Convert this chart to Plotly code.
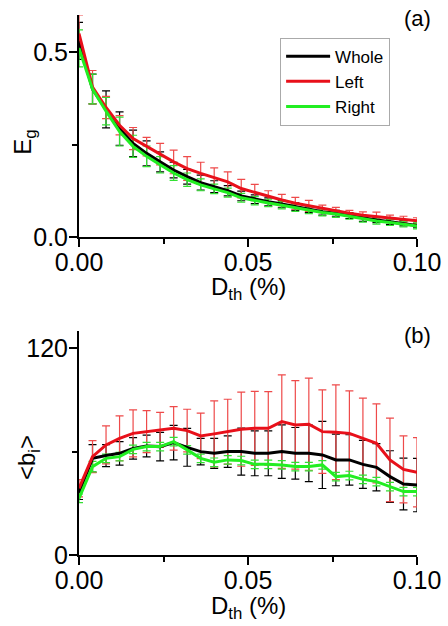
import plotly.graph_objects as go
from plotly.subplots import make_subplots

D = [0.000, 0.004, 0.008, 0.012, 0.016, 0.020, 0.024, 0.028, 0.032, 0.036, 0.040, 0.044, 0.048,
     0.052, 0.056, 0.060, 0.064, 0.068, 0.072, 0.076, 0.080, 0.084, 0.088, 0.092, 0.096, 0.100]

# Panel (a): global efficiency E_g
whole_a = [0.53, 0.40, 0.345, 0.293, 0.253, 0.226, 0.203, 0.181, 0.163, 0.147, 0.136, 0.125, 0.111,
           0.102, 0.095, 0.089, 0.082, 0.075, 0.068, 0.064, 0.058, 0.050, 0.046, 0.041, 0.037, 0.031]
left_a = [0.55, 0.405, 0.35, 0.302, 0.266, 0.244, 0.224, 0.203, 0.185, 0.172, 0.161, 0.149, 0.131,
          0.120, 0.109, 0.100, 0.091, 0.084, 0.076, 0.071, 0.064, 0.059, 0.055, 0.050, 0.048, 0.044]
right_a = [0.51, 0.40, 0.34, 0.285, 0.245, 0.218, 0.195, 0.173, 0.155, 0.141, 0.130, 0.120, 0.106,
           0.098, 0.092, 0.086, 0.079, 0.072, 0.066, 0.062, 0.056, 0.048, 0.043, 0.039, 0.035, 0.030]
whole_err_a = [0.05, 0.04, 0.05, 0.045, 0.036, 0.034, 0.027, 0.021, 0.02, 0.02, 0.016, 0.014, 0.013,
               0.012, 0.011, 0.01, 0.01, 0.009, 0.009, 0.008, 0.008, 0.008, 0.007, 0.007, 0.007, 0.006]
left_err_a = [0.05, 0.045, 0.03, 0.026, 0.03, 0.025, 0.029, 0.032, 0.032, 0.03, 0.026, 0.027, 0.025,
              0.022, 0.016, 0.015, 0.016, 0.015, 0.01, 0.009, 0.008, 0.009, 0.012, 0.009, 0.008, 0.008]
right_err_a = [0.05, 0.04, 0.037, 0.039, 0.03, 0.028, 0.022, 0.02, 0.018, 0.016, 0.013, 0.012, 0.012,
               0.011, 0.01, 0.01, 0.01, 0.009, 0.009, 0.009, 0.008, 0.008, 0.008, 0.008, 0.008, 0.008]

# Panel (b): mean betweenness <b_i>
whole_b = [36.2, 56.1, 57.7, 59.0, 61.9, 63.3, 62.9, 65.2, 62.5, 60.0, 59.0, 60.0, 60.0,
           59.0, 59.0, 60.0, 59.0, 59.0, 58.1, 55.2, 55.2, 52.6, 50.9, 45.5, 41.2, 40.6]
left_b = [38.7, 57.1, 63.9, 67.7, 70.6, 71.6, 72.6, 73.5, 72.2, 69.1, 70.3, 71.6, 73.0,
          73.5, 73.5, 77.4, 75.5, 75.9, 71.6, 71.2, 70.6, 67.7, 64.8, 55.2, 49.7, 48.0]
right_b = [32.9, 51.3, 56.1, 57.1, 61.3, 62.9, 62.9, 65.8, 61.0, 56.1, 53.8, 55.2, 54.8,
           52.6, 52.6, 52.3, 51.3, 51.3, 52.3, 45.5, 46.1, 43.9, 42.6, 39.7, 36.8, 36.8]
whole_err_b = [4, 8, 6.4, 6.8, 6.2, 6.3, 8.3, 10, 11, 7.7, 8.7, 9.1, 13.6,
               13, 13, 15.5, 15, 16.4, 19.5, 15, 14.6, 13.9, 13.7, 15, 15, 15.5]
left_err_b = [5, 9.3, 11, 13, 13.6, 12.2, 10.2, 12.6, 12.4, 13.2, 19.1, 18.8, 21.5,
              21.5, 21.3, 27.1, 25.7, 26.7, 24.2, 27.5, 24.6, 23.3, 22.9, 24.2, 19.4, 20.1]
right_err_b = [2.5, 3, 2.5, 2.5, 2.5, 2.5, 2.5, 2.5, 2.5, 2.5, 2.5, 2.5, 2.5,
               2.5, 2.5, 2.5, 2.5, 2.5, 2.5, 2.5, 2.5, 2.5, 2.5, 2.5, 2.5, 2.5]

names = ["Whole", "Left", "Right"]
line_colors = ["#000000", "#e8101a", "#22ee22"]
err_colors = ["#000000", "#ee4a4a", "#33e033"]

FONT = "Arial, Liberation Sans, sans-serif"

fig = make_subplots(rows=2, cols=1, vertical_spacing=0.174)

panels = [
    (1, [whole_a, left_a, right_a], [whole_err_a, left_err_a, right_err_a]),
    (2, [whole_b, left_b, right_b], [whole_err_b, left_err_b, right_err_b]),
]

for row, ys, errs in panels:
    for k in range(3):
        fig.add_trace(go.Scatter(
            x=D, y=ys[k], mode="markers",
            marker=dict(size=1, color="rgba(0,0,0,0)"),
            error_y=dict(type="data", array=errs[k], visible=True,
                         color=err_colors[k], thickness=1.2, width=4),
            showlegend=False, hoverinfo="skip"), row=row, col=1)
    for k in range(3):
        fig.add_trace(go.Scatter(
            x=D, y=ys[k], mode="lines", name=names[k],
            line=dict(color=line_colors[k], width=3),
            showlegend=(row == 1)), row=row, col=1)

axis_common = dict(showline=True, linecolor="black", linewidth=2, ticks="outside",
                   ticklen=8, tickwidth=2, tickcolor="black", showgrid=False, zeroline=False,
                   tickfont=dict(family=FONT, size=25, color="black"), mirror=False,
                   automargin=False)

for r in (1, 2):
    fig.update_xaxes(range=[0, 0.1], dtick=0.05, tick0=0, tickformat=".2f",
                     ticklabelstandoff=-6,
                     minor=dict(dtick=0.025, tick0=0, ticks="outside", ticklen=5,
                                tickwidth=2, tickcolor="black"),
                     **axis_common, row=r, col=1)

fig.update_yaxes(range=[0, 0.6], dtick=0.5, tick0=0, tickformat=".1f",
                 ticklabelstandoff=-4,
                 minor=dict(dtick=0.25, tick0=0, ticks="outside", ticklen=5,
                            tickwidth=2, tickcolor="black"),
                 **axis_common, row=1, col=1)
fig.update_yaxes(range=[0, 130], dtick=120, tick0=0,
                 ticklabelstandoff=-4,
                 minor=dict(dtick=60, tick0=0, ticks="outside", ticklen=5,
                            tickwidth=2, tickcolor="black"),
                 **axis_common, row=2, col=1)

ann_font = dict(family=FONT, size=24, color="black")
annotations = [
    dict(text="E<sub>g</sub>", x=-0.16, y=0.765, xref="paper", yref="paper",
         textangle=-90, showarrow=False, font=ann_font, xanchor="center", yanchor="middle"),
    dict(text="&lt;b<sub>i</sub>&gt;", x=-0.15, y=0.18, xref="paper", yref="paper",
         textangle=-90, showarrow=False, font=ann_font, xanchor="center", yanchor="middle"),
    dict(text="D<sub>th</sub> (%)", x=0.5, y=0.494, xref="paper", yref="paper",
         showarrow=False, font=ann_font, xanchor="center", yanchor="middle"),
    dict(text="D<sub>th</sub> (%)", x=0.5, y=-0.098, xref="paper", yref="paper",
         showarrow=False, font=ann_font, xanchor="center", yanchor="middle"),
    dict(text="(a)", x=1.0, y=0.993, xref="paper", yref="paper",
         showarrow=False, font=dict(family=FONT, size=22, color="black"),
         xanchor="center", yanchor="middle"),
    dict(text="(b)", x=1.0, y=0.4056, xref="paper", yref="paper",
         showarrow=False, font=dict(family=FONT, size=22, color="black"),
         xanchor="center", yanchor="middle"),
]

fig.update_layout(
    width=448, height=626,
    margin=dict(l=79, r=31, t=15, b=71),
    paper_bgcolor="white", plot_bgcolor="white",
    font=dict(family=FONT, color="black"),
    annotations=annotations,
    legend=dict(x=0.595, y=0.958, xanchor="left", yanchor="top",
                bordercolor="#aaaaaa", borderwidth=1, bgcolor="white",
                font=dict(family=FONT, size=17, color="black"),
                tracegroupgap=0, itemwidth=44),
)
fig.update_yaxes(domain=[0.5889, 1.0], row=1, col=1)
fig.update_yaxes(domain=[0.0, 0.4148], row=2, col=1)

fig.write_html("out.html", config={"displayModeBar": False},
               post_script="document.body.style.margin='0';document.body.style.overflow='hidden';")
